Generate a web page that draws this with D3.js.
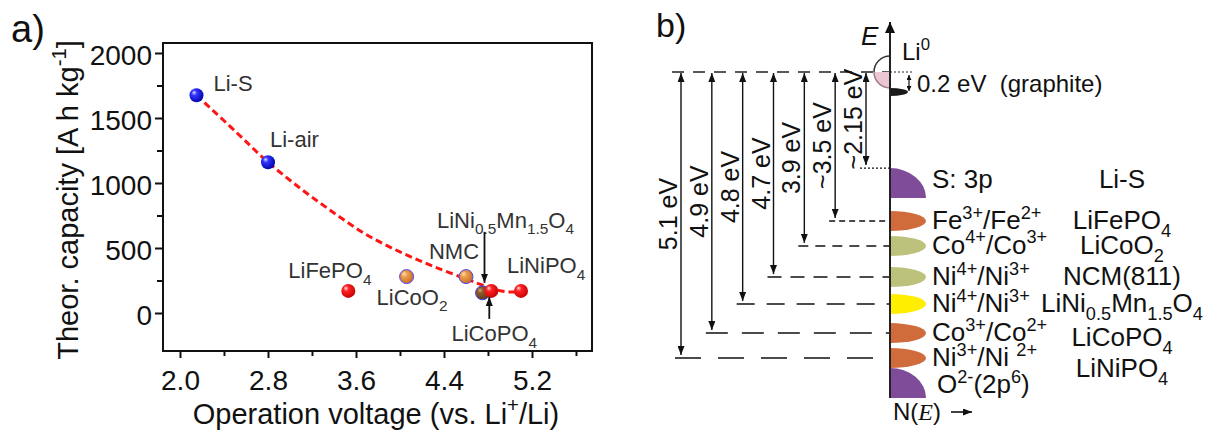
<!DOCTYPE html>
<html>
<head>
<meta charset="utf-8">
<script src="https://cdn.jsdelivr.net/npm/d3@7"></script>
<style>
  body { margin: 0; background: #fff; }
  svg { display: block; font-family: "Liberation Sans", Arial, sans-serif; }
</style>
</head>
<body>
<svg id="fig" width="1216" height="430"></svg>
<script>
// ---- panel a: capacity vs. voltage ----
const materials = ["Li-S", "Li-air", "LiFePO_{4}", "LiCoO_{2}", "NMC", "LiNi_{0.5}Mn_{1.5}O_{4}", "LiCoPO_{4}", "LiNiPO_{4}"];
const voltage   = [2.15, 2.8, 3.53, 4.06, 4.6, 4.75, 4.83, 5.1];
const capacity  = [1675, 1160, 170, 280, 280, 155, 170, 170];
const kind      = ["blue", "blue", "red", "orange", "orange", "brown", "red", "red"];

// dashed guide curve
const fitV = [2.15, 2.5, 2.8, 3.1, 3.4, 3.7, 4.0, 4.3, 4.6, 4.8, 4.95, 5.1];
const fitC = [1675, 1400, 1160, 955, 770, 600, 470, 360, 262, 200, 165, 163];

const xMajor = [2.0, 2.8, 3.6, 4.4, 5.2];
const xMinor = [2.4, 3.2, 4.0, 4.8, 5.6];
const yMajor = [0, 500, 1000, 1500, 2000];
const yMinor = [250, 750, 1250, 1750];

// ---- panel b: energy levels ----
const levelKey      = ["S", "Fe", "Co4", "NCM", "LNMO", "Co3", "Ni3", "O"];
const levelDepth    = [3.36, 5.21, 6.08, 7.17, 8.11, 9.13, 10.0, 10.35];
const levelCouple   = ["S: 3p", "Fe^{3+}/Fe^{2+}", "Co^{4+}/Co^{3+}", "Ni^{4+}/Ni^{3+}", "Ni^{4+}/Ni^{3+}",
                       "Co^{3+}/Co^{2+}", "Ni^{3+}/Ni ^{2+}", "O^{2-}(2p^{6})"];
const levelCompound = ["Li-S", "LiFePO_{4}", "LiCoO_{2}", "NCM(811)", "LiNi_{0.5}Mn_{1.5}O_{4}", "LiCoPO_{4}", "LiNiPO_{4}", ""];
const levelColor    = ["#7f4c99", "#d06c3b", "#bcc27b", "#bcc27b", "#ffee00", "#d06c3b", "#d06c3b", "#7f4c99"];
const levelShape    = ["quarter", "ellipse", "ellipse", "ellipse", "ellipse", "ellipse", "ellipse", "quarter"];

const gapLabel  = ["5.1 eV", "4.9 eV", "4.8 eV", "4.7 eV", "3.9 eV", "~3.5 eV", "~2.15 eV"];
const gapTarget = ["Ni3", "Co3", "LNMO", "NCM", "Co4", "Fe", "S"];
const graphiteDepth = 0.7;

const svg = d3.select("#fig");
const defs = svg.append("defs");

// sub/superscript helper: _{..} and ^{..}
function rich(sel, str, size) {
  const re = /([_^])\{([^}]*)\}|([^_^]+)/g;
  let m, shift = 0;
  while ((m = re.exec(str))) {
    if (m[3]) {
      sel.append("tspan").attr("dy", -shift).text(m[3]);
      shift = 0;
    } else {
      const s = m[1] === "_" ? size * 0.3 : -size * 0.4;
      sel.append("tspan").attr("dy", s - shift).attr("font-size", size * 0.7).text(m[2]);
      shift = s;
    }
  }
  return sel;
}

function marker(id, len, wid) {
  defs.append("marker")
    .attr("id", id)
    .attr("viewBox", `0 0 ${len} ${wid}`)
    .attr("refX", len).attr("refY", wid / 2)
    .attr("markerWidth", len).attr("markerHeight", wid)
    .attr("markerUnits", "userSpaceOnUse")
    .attr("orient", "auto-start-reverse")
    .append("path")
    .attr("d", `M0,0 L${len},${wid / 2} L0,${wid} Z`)
    .attr("fill", "#111");
}
marker("ah", 9, 7);
marker("ahBig", 11, 10);
marker("ahSmall", 5, 5);

const shades = {
  blue:   { c: ["#dcdcff", "#3434ff", "#0000a8"], stroke: "none" },
  red:    { c: ["#ffe4e4", "#ff2222", "#c40000"], stroke: "none" },
  orange: { c: ["#ffe2b8", "#f0a050", "#c46a22"], stroke: "#3a3aff" },
  brown:  { c: ["#d8a878", "#8c5a2a", "#5a3816"], stroke: "#3a3aff" }
};
Object.entries(shades).forEach(([k, s]) => {
  const g = defs.append("radialGradient").attr("id", "g-" + k)
    .attr("cx", "40%").attr("cy", "40%").attr("r", "65%")
    .attr("fx", "32%").attr("fy", "30%");
  g.append("stop").attr("offset", "0%").attr("stop-color", s.c[0]);
  g.append("stop").attr("offset", "30%").attr("stop-color", s.c[1]);
  g.append("stop").attr("offset", "100%").attr("stop-color", s.c[2]);
});

// ================= panel a =================
const A = { left: 163, top: 43, right: 592, bottom: 351 };
const x = d3.scaleLinear().domain([1.8455, 5.7455]).range([A.left, A.right]);
const y = d3.scaleLinear().domain([-292.3, 2076.9]).range([A.bottom, A.top]);

const pa = svg.append("g");

pa.append("text").attr("x", 11).attr("y", 42).attr("font-size", 38).attr("fill", "#111").text("a)");

const xAxis = pa.append("g").attr("transform", `translate(0,${A.bottom})`)
  .call(d3.axisBottom(x).tickValues(xMajor).tickSize(7).tickPadding(12).tickFormat(d3.format(".1f")));
const xAxisMinor = pa.append("g").attr("transform", `translate(0,${A.bottom})`)
  .call(d3.axisBottom(x).tickValues(xMinor).tickSize(5).tickFormat(""));
const yAxis = pa.append("g").attr("transform", `translate(${A.left},0)`)
  .call(d3.axisLeft(y).tickValues(yMajor).tickSize(8).tickPadding(3).tickFormat(d3.format("d")));
const yAxisMinor = pa.append("g").attr("transform", `translate(${A.left},0)`)
  .call(d3.axisLeft(y).tickValues(yMinor).tickSize(6).tickFormat(""));

[xAxis, xAxisMinor, yAxis, yAxisMinor].forEach(g => {
  g.select(".domain").remove();
  g.selectAll(".tick line").attr("stroke", "#111").attr("stroke-width", 2);
  g.selectAll(".tick text").attr("font-size", 28).attr("fill", "#111")
    .attr("font-family", "Liberation Sans, Arial, sans-serif");
});
yAxis.selectAll(".tick text").attr("dy", "0.4em");

pa.append("rect")
  .attr("x", A.left).attr("y", A.top)
  .attr("width", A.right - A.left).attr("height", A.bottom - A.top)
  .attr("fill", "none").attr("stroke", "#111").attr("stroke-width", 2);

// axis titles
rich(pa.append("text")
  .attr("transform", `translate(78,200) rotate(-90)`)
  .attr("text-anchor", "middle").attr("font-size", 29).attr("fill", "#111"),
  "Theor. capacity [A h kg^{-1}]", 29);
rich(pa.append("text")
  .attr("x", 376).attr("y", 424)
  .attr("text-anchor", "middle").attr("font-size", 29).attr("fill", "#111"),
  "Operation voltage (vs. Li^{+}/Li)", 29);

// guide curve
const fit = fitV.map((v, i) => [v, fitC[i]]);
pa.append("path")
  .datum(fit)
  .attr("d", d3.line().x(d => x(d[0])).y(d => y(d[1])).curve(d3.curveCatmullRom.alpha(0.5)))
  .attr("fill", "none").attr("stroke", "#ff1414")
  .attr("stroke-width", 3).attr("stroke-dasharray", "7,4");

// points
const pts = materials.map((m, i) => ({ name: m, v: voltage[i], c: capacity[i], k: kind[i] }));
pa.selectAll("circle.pt")
  .data(pts)
  .join("circle")
  .attr("class", "pt")
  .attr("cx", d => x(d.v)).attr("cy", d => y(d.c)).attr("r", 7)
  .attr("fill", d => `url(#g-${d.k})`)
  .attr("stroke", d => shades[d.k].stroke).attr("stroke-width", 0.9);

// point labels (offset from point, px)
const labelOff = {
  "Li-S": [17, -4, "start"],
  "Li-air": [2, -15, "start"],
  "LiFePO_{4}": [-60, -13, "start"],
  "LiCoO_{2}": [-30, 28, "start"],
  "NMC": [-37, -18, "start"],
  "LiNi_{0.5}Mn_{1.5}O_{4}": [23, -65, "middle"],
  "LiCoPO_{4}": [3, 50, "middle"],
  "LiNiPO_{4}": [-14, -18, "start"]
};
pts.forEach(d => {
  const o = labelOff[d.name];
  rich(pa.append("text")
    .attr("x", x(d.v) + o[0]).attr("y", y(d.c) + o[1])
    .attr("text-anchor", o[2]).attr("font-size", 22).attr("fill", "#333"),
    d.name, 22);
});

// pointer arrows for crowded points
const lnmo = pts[5], lcp = pts[6];
pa.append("line")
  .attr("x1", x(lnmo.v) + 2).attr("x2", x(lnmo.v) + 2)
  .attr("y1", y(lnmo.c) - 61).attr("y2", y(lnmo.c) - 10)
  .attr("stroke", "#111").attr("stroke-width", 1.8).attr("marker-end", "url(#ah)");
pa.append("line")
  .attr("x1", x(lcp.v) - 2).attr("x2", x(lcp.v) - 2)
  .attr("y1", y(lcp.c) + 28).attr("y2", y(lcp.c) + 6)
  .attr("stroke", "#111").attr("stroke-width", 1.8).attr("marker-end", "url(#ah)");

// ================= panel b =================
const axX = 890;
const yE = d3.scaleLinear().domain([0, 10]).range([72, 358]);
const xA = d3.scalePoint().domain(gapLabel).range([681, 866]);
const pb = svg.append("g");

pb.append("text").attr("x", 656).attr("y", 37).attr("font-size", 34).attr("fill", "#111").text("b)");

const lv = levelKey.map((k, i) => ({
  key: k, depth: levelDepth[i], couple: levelCouple[i], comp: levelCompound[i],
  color: levelColor[i], shape: levelShape[i], idx: i
}));
const lvByKey = new Map(lv.map(d => [d.key, d]));
const gaps = gapLabel.map((g, i) => ({ label: g, target: lvByKey.get(gapTarget[i]) }));

// top reference line (Li0)
pb.append("line")
  .attr("x1", 672).attr("x2", axX).attr("y1", yE(0)).attr("y2", yE(0))
  .attr("stroke", "#222").attr("stroke-width", 1.3).attr("stroke-dasharray", "12 9");
pb.append("line")
  .attr("x1", axX).attr("x2", axX + 23).attr("y1", yE(0)).attr("y2", yE(0))
  .attr("stroke", "#222").attr("stroke-width", 1.2).attr("stroke-dasharray", "2 2");

// level lines, dashes get longer downwards
gaps.forEach(g => {
  const d = g.target;
  const dash = d.key === "S" ? "2 2" : `${2 + d.idx * 4} ${Math.round((2 + d.idx * 4) * 0.65)}`;
  pb.append("line")
    .attr("x1", xA(g.label) - 6).attr("x2", axX)
    .attr("y1", yE(d.depth)).attr("y2", yE(d.depth))
    .attr("stroke", "#111").attr("stroke-width", d.key === "S" ? 1.2 : 1.5)
    .attr("stroke-dasharray", dash);
});

// gap arrows
gaps.forEach(g => {
  const xx = xA(g.label);
  const y1 = yE(0) + 1, y2 = yE(g.target.depth) - 3;
  pb.append("line")
    .attr("x1", xx).attr("x2", xx).attr("y1", y1).attr("y2", y2)
    .attr("stroke", "#111").attr("stroke-width", 1.4)
    .attr("marker-start", "url(#ah)").attr("marker-end", "url(#ah)");
  pb.append("text")
    .attr("transform", `translate(${xx - 4},${(y1 + y2) / 2}) rotate(-90)`)
    .attr("text-anchor", "middle").attr("font-size", 25).attr("fill", "#111")
    .text(g.label);
});

// density-of-states shapes, right of the axis
const clip = defs.append("clipPath").attr("id", "rightHalf");
clip.append("rect").attr("x", axX).attr("y", 0).attr("width", 200).attr("height", 430);

lv.forEach(d => {
  const yy = yE(d.depth);
  if (d.shape === "ellipse") {
    pb.append("ellipse")
      .attr("cx", axX).attr("cy", yy).attr("rx", 36).attr("ry", 10)
      .attr("fill", d.color).attr("clip-path", "url(#rightHalf)");
  } else {
    pb.append("path")
      .attr("d", `M${axX},${yy} A36,30 0 0 1 ${axX + 36},${yy + 30} L${axX},${yy + 30} Z`)
      .attr("fill", d.color);
  }
});

// Li0 circle and graphite band
const y0 = yE(0), r0 = 16;
pb.append("path")
  .attr("d", `M${axX},${y0} L${axX - r0},${y0} A${r0},${r0} 0 0 0 ${axX},${y0 + r0} Z`)
  .attr("fill", "#ebc7d6");
pb.append("path")
  .attr("d", `M${axX - r0},${y0} A${r0},${r0} 0 0 0 ${axX},${y0 + r0}`)
  .attr("fill", "none").attr("stroke", "#a07888").attr("stroke-width", 1.5);
pb.append("path")
  .attr("d", `M${axX - r0},${y0} A${r0},${r0} 0 0 1 ${axX},${y0 - r0}`)
  .attr("fill", "none").attr("stroke", "#333").attr("stroke-width", 1.5);
pb.append("ellipse")
  .attr("cx", axX).attr("cy", yE(graphiteDepth)).attr("rx", 18).attr("ry", 4)
  .attr("fill", "#1a1a1a").attr("clip-path", "url(#rightHalf)");
pb.append("line")
  .attr("x1", axX + 19).attr("x2", axX + 19)
  .attr("y1", y0 + 3).attr("y2", yE(graphiteDepth) - 1)
  .attr("stroke", "#111").attr("stroke-width", 1.2)
  .attr("marker-start", "url(#ahSmall)").attr("marker-end", "url(#ahSmall)");

// energy axis
pb.append("line")
  .attr("x1", axX).attr("x2", axX).attr("y1", 398).attr("y2", 22)
  .attr("stroke", "#222").attr("stroke-width", 2).attr("marker-end", "url(#ahBig)");

pb.append("text").attr("x", 861).attr("y", 45).attr("font-size", 26)
  .attr("font-style", "italic").attr("fill", "#111").text("E");
rich(pb.append("text").attr("x", 902).attr("y", 60).attr("font-size", 24).attr("fill", "#111"), "Li^{0}", 24);
pb.append("text").attr("x", 917).attr("y", 92).attr("font-size", 24).attr("fill", "#111")
  .text("0.2 eV\u00A0 (graphite)");

// level labels; the two lowest compounds sit a little lower
const compDrop = { Co3: 5, Ni3: 11 };
lv.forEach(d => {
  const base = yE(d.depth) + (d.shape === "quarter" ? (d.key === "O" ? 25 : 20) : 8);
  rich(pb.append("text")
    .attr("x", d.key === "O" ? 937 : 932).attr("y", base)
    .attr("font-size", 26).attr("fill", "#111"), d.couple, 26);
  if (d.comp) {
    rich(pb.append("text")
      .attr("x", 1122).attr("y", base + (compDrop[d.key] || 0))
      .attr("text-anchor", "middle").attr("font-size", 26).attr("fill", "#111"), d.comp, 26);
  }
});

// N(E) axis label
const ne = pb.append("text").attr("x", 893).attr("y", 420).attr("font-size", 24).attr("fill", "#111");
ne.append("tspan").text("N(");
ne.append("tspan").attr("font-family", "Liberation Serif, serif").attr("font-style", "italic").text("E");
ne.append("tspan").text(")");
pb.append("line")
  .attr("x1", 951).attr("x2", 972).attr("y1", 412).attr("y2", 412)
  .attr("stroke", "#111").attr("stroke-width", 1.6).attr("marker-end", "url(#ah)");
</script>
</body>
</html>
